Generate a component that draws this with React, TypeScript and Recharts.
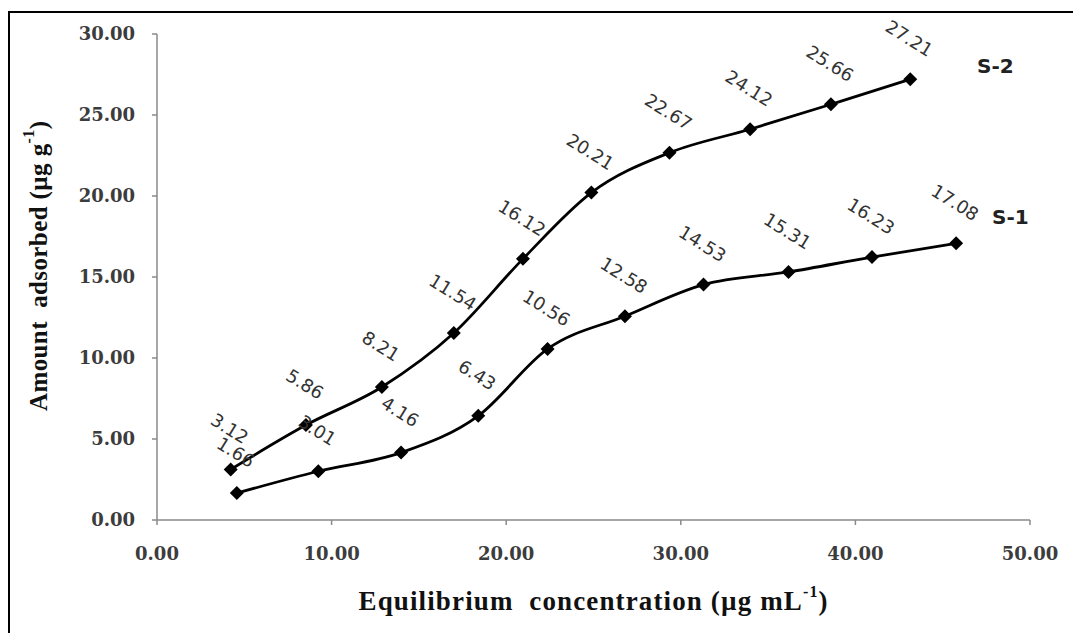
import React from "react";
import { LineChart, Line, XAxis, YAxis, LabelList } from "recharts";

// S-1 and S-2 isotherm points
const s1Conc = [4.57, 9.24, 13.98, 18.4, 22.37, 26.8, 31.3, 36.17, 40.95, 45.77];
const s1Amount = [1.66, 3.01, 4.16, 6.43, 10.56, 12.58, 14.53, 15.31, 16.23, 17.08];
const s2Conc = [4.22, 8.53, 12.88, 17.0, 20.96, 24.88, 29.35, 33.97, 38.6, 43.14];
const s2Amount = [3.12, 5.86, 8.21, 11.54, 16.12, 20.21, 22.67, 24.12, 25.66, 27.21];

const xTicks = [0, 10, 20, 30, 40, 50];
const yTicks = [0, 5, 10, 15, 20, 25, 30];

const s1Data = s1Conc.map((x, i) => ({ x, y: s1Amount[i] }));
const s2Data = s2Conc.map((x, i) => ({ x, y: s2Amount[i] }));

const axisColor = "#8a8a8a";
const tickStyle = {
  fontFamily: "DejaVu Serif",
  fontWeight: 700,
  fontSize: 18,
  fill: "#3c3c3c",
};

function Diamond(props: any) {
  const { cx, cy, index } = props;
  if (cx == null || cy == null) return null;
  const r = 7;
  return (
    <polygon
      key={`dm-${index}`}
      points={`${cx},${cy - r} ${cx + r},${cy} ${cx},${cy + r} ${cx - r},${cy}`}
      fill="#000"
    />
  );
}

function PointLabel(props: any) {
  const { x, y, value } = props;
  if (x == null || y == null) return null;
  const lx = x - 1;
  const ly = y - 41;
  return (
    <text
      x={lx}
      y={ly}
      transform={`rotate(32 ${lx} ${ly})`}
      textAnchor="middle"
      dominantBaseline="central"
      fontFamily="DejaVu Sans"
      fontSize={18}
      fill="#333"
    >
      {Number(value).toFixed(2)}
    </text>
  );
}

function YTitle(props: any) {
  const cy = 266;
  const cx = 38;
  return (
    <text
      x={cx}
      y={cy}
      transform={`rotate(-90 ${cx} ${cy})`}
      textAnchor="middle"
      dominantBaseline="central"
      fontFamily="Liberation Serif"
      fontWeight={700}
      fontSize={25}
      fill="#111"
      textLength={290}
      lengthAdjust="spacing"
    >
      Amount{"\u00a0\u00a0"}adsorbed (µg g
      <tspan dy={-10} fontSize={16}>-1</tspan>
      <tspan dy={10}>)</tspan>
    </text>
  );
}

function XTitle(props: any) {
  return (
    <text
      x={593}
      y={601}
      textAnchor="middle"
      dominantBaseline="central"
      fontFamily="Liberation Serif"
      fontWeight={700}
      fontSize={27}
      fill="#111"
      textLength={469}
      lengthAdjust="spacing"
    >
      Equilibrium{"\u00a0\u00a0"}concentration (µg mL
      <tspan dy={-10} fontSize={16}>-1</tspan>
      <tspan dy={10}>)</tspan>
    </text>
  );
}

const seriesName: React.CSSProperties = {
  position: "absolute",
  fontFamily: "DejaVu Sans",
  fontWeight: 700,
  fontSize: 20,
  color: "#222",
  lineHeight: 1,
};

export default function App() {
  return (
    <div
      style={{
        position: "absolute",
        left: 0,
        top: 0,
        width: 1073,
        height: 633,
        background: "#fff",
        overflow: "hidden",
      }}
    >
      <LineChart
        width={1073}
        height={633}
        margin={{ top: 34, right: 43, left: 0, bottom: 0 }}
      >
        <XAxis
          type="number"
          dataKey="x"
          domain={[0, 50]}
          ticks={xTicks}
          tickFormatter={(v: number) => v.toFixed(2)}
          height={113}
          stroke={axisColor}
          strokeWidth={1.5}
          tickSize={5}
          tickMargin={22}
          tick={tickStyle}
          label={<XTitle />}
        />
        <YAxis
          type="number"
          domain={[0, 30]}
          ticks={yTicks}
          tickFormatter={(v: number) => v.toFixed(2)}
          width={157}
          stroke={axisColor}
          strokeWidth={1.5}
          tickSize={5}
          tickMargin={17}
          tick={tickStyle}
          label={<YTitle />}
        />
        <Line
          data={s1Data}
          dataKey="y"
          type="monotone"
          stroke="#000"
          strokeWidth={2.8}
          dot={(p: any) => <Diamond key={`s1-${p.index}`} {...p} />}
          activeDot={false}
          isAnimationActive={false}
        >
          <LabelList dataKey="y" content={<PointLabel />} />
        </Line>
        <Line
          data={s2Data}
          dataKey="y"
          type="monotone"
          stroke="#000"
          strokeWidth={2.8}
          dot={(p: any) => <Diamond key={`s2-${p.index}`} {...p} />}
          activeDot={false}
          isAnimationActive={false}
        >
          <LabelList dataKey="y" content={<PointLabel />} />
        </Line>
      </LineChart>
      <div style={{ ...seriesName, left: 977, top: 56 }}>S-2</div>
      <div style={{ ...seriesName, left: 992, top: 207 }}>S-1</div>
      {/* figure frame: only top and left edges show */}
      <div style={{ position: "absolute", left: 8, top: 11, width: 1065, height: 2, background: "#000" }} />
      <div style={{ position: "absolute", left: 8, top: 11, width: 2, height: 622, background: "#000" }} />
    </div>
  );
}
